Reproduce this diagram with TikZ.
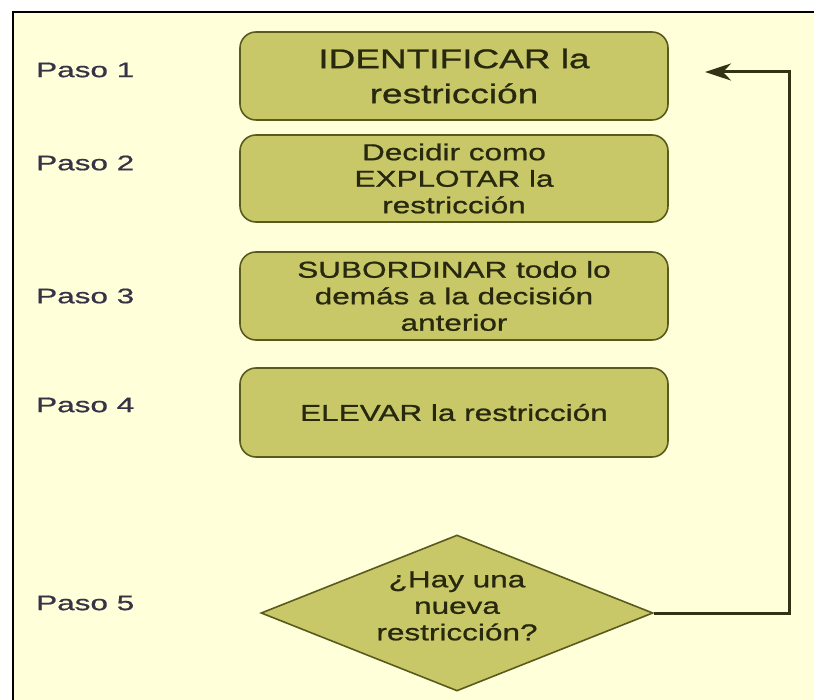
\documentclass[tikz,border=0pt]{standalone}
\usepackage{fontspec}
\setmainfont{Liberation Sans}[FakeStretch=1.37,FakeBold=0.9]
\newfontfamily\pasofont{Liberation Sans}[FakeStretch=1.5,FakeBold=0.7]
\usetikzlibrary{shapes.geometric,arrows.meta}
\definecolor{bg}{RGB}{255,255,218}
\definecolor{boxfill}{RGB}{200,200,105}
\definecolor{boxline}{RGB}{90,90,30}
\definecolor{txt}{RGB}{40,40,15}
\definecolor{pasocol}{RGB}{55,50,70}
\definecolor{arr}{RGB}{50,50,20}
\begin{document}
\begin{tikzpicture}[x=1pt,y=-1pt,
  stepbox/.style={draw=boxline,line width=1.6pt,fill=boxfill,rounded corners=16pt,
    minimum width=428pt,inner sep=0pt,align=center,text=txt,
    font=\fontsize{23}{26.5}\selectfont},
  decbox/.style={diamond,draw=boxline,line width=1.6pt,fill=boxfill,inner sep=0pt,
    minimum width=392pt,minimum height=156pt,aspect=2.5},
  pasolab/.style={anchor=west,text=pasocol,inner sep=0pt,font=\pasofont\fontsize{21}{24}\selectfont},
  flow/.style={draw=arr,line width=3pt,-{Stealth[length=26pt,width=17pt,inset=8pt]}}
]
\useasboundingbox (0,0) rectangle (814,700);
\fill[white] (0,0) rectangle (814,700);
\fill[bg] (13,12) rectangle (814,700);
\draw[black,line width=2pt] (13,700) -- (13,12) -- (814,12);

\node[stepbox,minimum height=88pt,font=\fontsize{27}{35}\selectfont] (b1) at (454,76) {IDENTIFICAR la\\restricción};
\node[stepbox,minimum height=87pt] (b2) at (454,178.5) {Decidir como\\EXPLOTAR la\\restricción};
\node[stepbox,minimum height=88pt] (b3) at (454,296) {SUBORDINAR todo lo\\demás a la decisión\\anterior};
\node[stepbox,minimum height=89pt] (b4) at (454,412.5) {ELEVAR la restricción};
\node[decbox] (dia) at (457,613) {};
\node[align=center,text=txt,inner sep=0pt,font=\fontsize{23}{26.5}\selectfont] (dtext) at (457,606) {¿Hay una\\nueva\\restricción?};

\node[pasolab] (p1) at (36,70) {Paso 1};
\node[pasolab] (p2) at (36,163) {Paso 2};
\node[pasolab] (p3) at (36,296) {Paso 3};
\node[pasolab] (p4) at (36,405) {Paso 4};
\node[pasolab] (p5) at (36,603) {Paso 5};

\coordinate (turn) at (789,72);
\coordinate (tip) at (705,72);
\draw[flow] (dia.east) -| (turn) -- (tip);
\end{tikzpicture}
\end{document}
